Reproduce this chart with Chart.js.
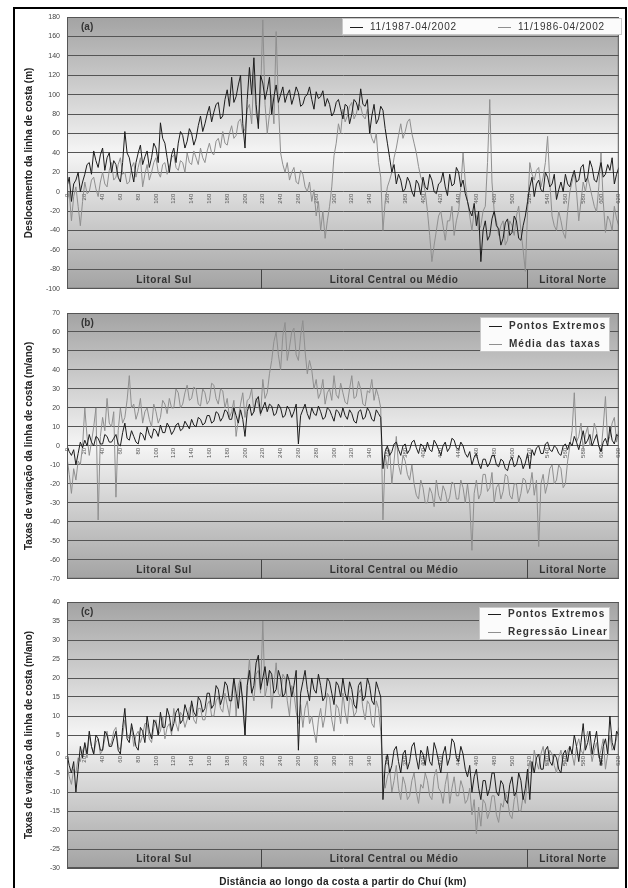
<!DOCTYPE html>
<html><head><meta charset="utf-8">
<script src="https://cdn.jsdelivr.net/npm/chart.js@4.4.0/dist/chart.umd.min.js"></script>
<style>
html,body{margin:0;padding:0;background:#fff;width:628px;height:888px;overflow:hidden;}
#frame{position:absolute;left:13px;top:7px;width:614px;height:900px;border:2px solid #000;box-sizing:border-box;}
canvas{position:absolute;left:0;}
</style></head>
<body>
<div id="frame"></div>
<canvas id="ca" width="628" height="300" style="top:0px"></canvas>
<canvas id="cb" width="628" height="290" style="top:300px"></canvas>
<canvas id="cc" width="628" height="298" style="top:590px"></canvas>
<script>
// ---------------- DATA ----------------
const distanceKm = [
0,2.5,5,7.5,10,12.5,15,17.5,20,22.5,25,27.5,30,32.5,35,37.5,40,42.5,45,47.5,
50,52.5,55,57.5,60,62.5,65,67.5,70,72.5,75,77.5,80,82.5,85,87.5,90,92.5,95,97.5,
100,102.5,105,107.5,110,112.5,115,117.5,120,122.5,125,127.5,130,132.5,135,137.5,140,142.5,145,147.5,
150,152.5,155,157.5,160,162.5,165,167.5,170,172.5,175,177.5,180,182.5,185,187.5,190,192.5,195,197.5,
200,202.5,205,207.5,210,212.5,215,217.5,220,222.5,225,227.5,230,232.5,235,237.5,240,242.5,245,247.5,
250,252.5,255,257.5,260,262.5,265,267.5,270,272.5,275,277.5,280,282.5,285,287.5,290,292.5,295,297.5,
300,302.5,305,307.5,310,312.5,315,317.5,320,322.5,325,327.5,330,332.5,335,337.5,340,342.5,345,347.5,
350,352.5,355,357.5,360,362.5,365,367.5,370,372.5,375,377.5,380,382.5,385,387.5,390,392.5,395,397.5,
400,402.5,405,407.5,410,412.5,415,417.5,420,422.5,425,427.5,430,432.5,435,437.5,440,442.5,445,447.5,
450,452.5,455,457.5,460,462.5,465,467.5,470,472.5,475,477.5,480,482.5,485,487.5,490,492.5,495,497.5,
500,502.5,505,507.5,510,512.5,515,517.5,520,522.5,525,527.5,530,532.5,535,537.5,540,542.5,545,547.5,
550,552.5,555,557.5,560,562.5,565,567.5,570,572.5,575,577.5,580,582.5,585,587.5,590,592.5,595,597.5,
600,602.5,605,607.5,610,612.5,615,617.5,620];

// (a) shoreline displacement (m)
const disp1987 = [
5,15,-10,8,12,20,0,10,18,28,
30,18,42,32,25,38,45,22,35,40,
20,32,28,15,10,30,62,40,35,22,
10,30,40,48,28,36,42,25,35,50,
45,30,71,55,50,35,20,38,45,30,
50,62,58,45,52,65,60,48,55,68,
78,62,70,80,88,72,82,90,92,75,
78,95,105,88,118,92,98,110,120,70,
45,95,128,100,138,90,65,120,112,95,
105,118,80,98,110,92,100,108,92,100,
105,90,98,108,102,88,90,98,100,108,
95,85,103,96,98,104,88,96,90,78,
82,92,95,85,75,90,88,70,80,95,
92,84,106,90,88,95,60,78,90,70,
75,88,84,65,50,35,20,28,8,18,
12,0,3,15,10,0,-5,12,8,-3,
15,5,2,18,12,0,-2,8,10,20,
5,-4,18,6,8,25,20,5,12,-2,
-10,-20,-25,-12,-35,-20,-72,-40,-30,-50,
-45,-28,-20,-35,-38,-55,-48,-32,-28,-45,
-42,-25,-30,-48,-50,-35,-25,-10,5,15,
-5,8,12,2,0,20,15,5,8,18,
-8,2,10,0,18,8,5,15,22,10,
12,25,28,10,15,32,25,12,10,20,
30,15,18,28,22,35,8,18,25];
const disp1986 = [
-10,0,-30,-5,5,-15,-35,-10,10,-2,
0,12,15,3,-5,10,20,8,5,22,
30,12,15,28,35,18,20,8,10,25,
30,15,25,35,5,18,28,12,20,30,
35,20,15,28,30,18,25,35,38,25,
22,32,30,20,40,30,28,42,35,28,
45,35,30,42,50,40,38,52,55,45,
62,50,48,60,68,55,58,72,75,60,
65,85,90,70,120,80,70,100,177,90,
60,80,100,70,165,90,40,28,20,30,
12,20,25,10,8,22,18,5,0,10,
-10,2,-25,-10,-40,-20,-48,-30,-15,5,
37,50,70,60,85,72,78,88,92,75,
80,90,88,78,75,85,65,55,50,60,
30,15,-40,-10,5,12,20,35,45,58,
70,55,62,72,75,60,50,40,26,15,
10,0,-20,-45,-72,-55,-40,-25,-20,-35,
-50,-30,-30,-15,-45,-30,-20,5,40,10,
-10,-25,-40,-20,-25,-40,-35,-20,-15,30,
95,10,-20,-30,-45,-35,-30,-55,-50,-30,
-35,-45,-25,-15,-40,-60,-82,-20,30,18,
12,22,25,5,15,30,57,10,-25,-35,
-40,-20,-30,-42,-48,-20,0,10,20,0,
-30,-10,10,0,15,5,-5,-15,-21,5,
40,-10,-42,-25,-30,-40,-15,-28,-35];

// (b), (c) shoreline change rates (m/ano)
const rateEndPoints = [
0,-3,-5,-2,-10,-4,2,-1,3,0,
6,2,0,5,4,1,1,6,5,2,
2,4,6,1,0,7,12,4,3,8,
5,2,1,7,6,3,10,6,4,9,
8,5,11,7,7,12,10,6,8,11,
12,8,9,13,11,9,14,11,10,15,
14,11,12,16,16,12,13,18,17,13,
15,19,18,14,14,20,16,12,19,14,
5,18,22,16,18,24,26,17,20,23,
18,22,21,16,17,22,20,15,16,21,
19,15,18,22,1,16,19,22,17,14,
20,17,16,21,18,14,15,20,19,16,
13,19,18,15,20,16,14,19,17,13,
12,18,19,14,15,20,18,14,13,19,
17,15,-12,-3,0,-5,-3,1,2,-2,
-5,0,1,-4,-2,2,3,-1,-4,1,
0,-3,2,-2,-3,3,1,-2,-5,0,
2,-3,-1,4,3,-1,-2,2,0,-4,
-6,-3,-10,-6,-4,-9,-12,-7,-7,-11,
-9,-5,-5,-10,-11,-7,-8,-12,-13,-8,
-6,-11,-10,-5,-7,-12,-9,-4,-12,-2,
-5,-1,0,-4,-4,1,2,-2,-3,0,
-1,-4,-5,0,1,-2,2,0,5,2,
-2,3,8,1,3,6,0,3,6,0,
-3,2,4,0,10,3,1,6,5];
const rateMean = [
-6,-15,-25,-12,-18,-8,-10,0,20,5,
-5,2,10,20,-39,5,15,8,25,12,
10,18,-27,8,20,12,15,24,37,20,
22,14,18,25,12,18,20,14,10,22,
18,12,15,24,22,17,25,20,20,30,
28,20,22,28,32,24,25,31,30,22,
21,30,28,22,24,33,32,25,22,30,
29,20,25,15,18,24,5,14,22,28,
15,24,25,30,18,25,22,16,35,25,
28,38,45,55,60,48,40,58,65,45,
52,60,62,48,45,58,66,50,38,45,
40,30,35,25,28,35,22,28,30,24,
37,27,25,33,28,23,22,30,37,25,
26,34,30,22,21,29,28,35,24,30,
26,20,-39,-5,-12,-2,-20,-8,5,-10,
-15,-5,-8,-15,-18,-10,-20,-26,-28,-18,
-22,-30,-30,-22,-25,-32,-18,-26,-29,-21,
-24,-30,-27,-19,-20,-28,-28,-18,-22,-30,
-20,-30,-55,-25,-18,-28,-25,-15,-15,-24,
-22,-14,-30,-22,-20,-28,-24,-15,-16,-26,
-28,-20,-20,-30,-25,-17,-18,-25,-22,-14,
-26,-18,-53,-20,-15,-25,-20,-12,-10,-20,
-18,-10,-12,-22,-20,-8,0,8,28,2,
5,12,-2,6,10,0,3,12,8,0,
-3,10,26,2,5,12,15,2,8];
const rateRegression = [
-3,-6,-8,-4,-5,-1,-2,1,2,-1,
5,2,0,3,4,0,1,4,6,2,
3,6,7,2,1,5,9,5,4,7,
2,5,6,3,5,8,8,4,3,7,
9,5,6,10,4,7,8,5,12,8,
6,11,10,7,9,12,13,9,8,12,
12,9,9,13,14,10,10,14,15,12,
11,16,13,10,16,20,10,18,20,12,
5,18,25,17,14,21,22,16,35,15,
18,22,12,18,24,16,15,21,20,14,
10,18,16,11,8,13,7,12,14,8,
10,6,3,9,12,7,10,16,15,9,
6,13,12,8,16,11,8,15,14,10,
11,16,17,12,9,14,13,8,7,14,
12,6,-5,-9,-6,-4,-10,-7,-3,-9,
-12,-6,-8,-12,-11,-7,-5,-10,-13,-8,
-9,-5,-7,-11,-12,-6,-4,-9,-10,-13,
-8,-5,-13,-9,-6,-11,-11,-7,-9,-13,
-12,-9,-16,-12,-21,-14,-19,-12,-13,-17,
-15,-11,-11,-16,-18,-13,-14,-10,-12,-16,
-17,-12,-10,-15,-15,-11,-13,-6,-2,-5,
1,-2,-4,0,2,-2,-3,1,0,-3,
-5,-1,1,-3,-2,1,2,0,-3,2,
4,1,0,3,6,2,-2,1,3,-1,
1,4,-4,0,5,1,2,4,7];

// tick labels
const yTicksA = [180,160,140,120,100,80,60,40,20,0,-20,-40,-60,-80,-100];
const yTicksB = [70,60,50,40,30,20,10,0,-10,-20,-30,-40,-50,-60,-70];
const yTicksC = [40,35,30,25,20,15,10,5,0,-5,-10,-15,-20,-25,-30];
const xTickStepKm = 20;

// coastal sectors
const regionNames = ['Litoral Sul','Litoral Central ou Médio','Litoral Norte'];
const regionLimitsKm = [0,218,517,620];

// ---------------- DRAWING ----------------
const FONT = '"Liberation Sans", Arial, sans-serif';
const DARK = '#1c1c1c', GREY = '#8f8f8f';

function spacedText(ctx, txt, x, y, spacing){
  if ('letterSpacing' in ctx) { ctx.letterSpacing = spacing + 'px'; ctx.fillText(txt, x, y); ctx.letterSpacing = '0px'; }
  else ctx.fillText(txt, x, y);
}

const panelPlugin = {
  id: 'panel',
  beforeDraw(chart){
    const {ctx, chartArea:a} = chart;
    const g = ctx.createLinearGradient(0, a.top, 0, a.bottom);
    g.addColorStop(0, '#a3a3a3');
    g.addColorStop(0.5, '#f5f5f5');
    g.addColorStop(1, '#a3a3a3');
    ctx.save(); ctx.fillStyle = g; ctx.fillRect(a.left, a.top, a.width, a.height); ctx.restore();
  },
  afterDraw(chart, args, o){
    const {ctx, chartArea:a, scales:{x, y}} = chart;
    const step = o.step;
    ctx.save();
    ctx.strokeStyle = '#555'; ctx.lineWidth = 1;
    ctx.strokeRect(a.left + .5, a.top + .5, a.width - 1, a.height - 1);
    // sector band
    const yTop = y.getPixelForValue(y.min + step), yBot = y.getPixelForValue(y.min);
    const yMid = (yTop + yBot) / 2;
    ctx.strokeStyle = '#444';
    regionLimitsKm.slice(1, -1).forEach(k => {
      const px = Math.round(x.getPixelForValue(k)) + .5;
      ctx.beginPath(); ctx.moveTo(px, yTop); ctx.lineTo(px, yBot); ctx.stroke();
    });
    ctx.fillStyle = '#333'; ctx.font = 'bold 10px ' + FONT;
    ctx.textAlign = 'center'; ctx.textBaseline = 'middle';
    regionNames.forEach((n, i) => {
      const cx = x.getPixelForValue((regionLimitsKm[i] + regionLimitsKm[i+1]) / 2);
      spacedText(ctx, n, cx, yMid + 1, 0.6);
    });
    // panel letter
    ctx.textAlign = 'left';
    ctx.fillText(o.letter, a.left + 14, y.getPixelForValue(y.max - step / 2) + 1);
    // legend
    const L = o.legend;
    ctx.fillStyle = '#fbfbfb'; ctx.fillRect(L.x, L.y, L.w, L.h);
    ctx.strokeStyle = '#c8c8c8'; ctx.strokeRect(L.x + .5, L.y + .5, L.w - 1, L.h - 1);
    chart.data.datasets.forEach((ds, i) => {
      const ix = L.x + L.dx + (L.row ? i * L.gap : 0);
      const iy = L.y + L.dy + (L.row ? 0 : i * L.gap);
      ctx.strokeStyle = ds.borderColor; ctx.lineWidth = 1;
      ctx.beginPath(); ctx.moveTo(ix, Math.round(iy) + .5); ctx.lineTo(ix + 13, Math.round(iy) + .5); ctx.stroke();
      ctx.fillStyle = '#333'; ctx.font = (L.bold ? 'bold ' : '') + '10px ' + FONT;
      ctx.textAlign = 'left'; ctx.textBaseline = 'middle';
      spacedText(ctx, ds.label, ix + 20, iy + 0.5, L.spacing);
    });
    if (o.xTitle) {
      ctx.fillStyle = '#222'; ctx.font = 'bold 10px ' + FONT; ctx.textAlign = 'center';
      spacedText(ctx, o.xTitle, (a.left + a.right) / 2, a.bottom + 14, 0.3);
    }
    ctx.restore();
  }
};

function makeChart(id, ticks, series, yTitle, padding, panelOpts){
  const step = ticks[0] - ticks[1];
  new Chart(document.getElementById(id), {
    type: 'line',
    data: {
      datasets: series.map(s => ({
        label: s.label,
        data: distanceKm.map((d, i) => ({x: d, y: s.values[i]})),
        borderColor: s.color, borderWidth: 1, pointRadius: 0, tension: 0, fill: false
      }))
    },
    options: {
      responsive: false, animation: false, devicePixelRatio: 1,
      layout: {padding: padding},
      plugins: {legend: {display: false}, tooltip: {enabled: false},
        panel: Object.assign({step: step}, panelOpts)},
      scales: {
        x: {
          type: 'linear', min: distanceKm[0], max: distanceKm[distanceKm.length - 1],
          position: {y: 0},
          grid: {display: false, drawTicks: false}, border: {display: false},
          ticks: {stepSize: xTickStepKm, autoSkip: false, minRotation: 90, maxRotation: 90,
            font: {size: 6, family: FONT}, color: '#555', padding: 2}
        },
        y: {
          min: ticks[ticks.length - 1], max: ticks[0],
          afterFit: s => { s.width = 47; },
          grid: {color: '#555', lineWidth: 1, drawTicks: false},
          border: {display: true, color: '#555'},
          ticks: {stepSize: step, font: {size: 7, family: FONT}, color: '#444', padding: 7},
          title: {display: true, text: yTitle, color: '#222',
            font: {size: 10, weight: 'bold', family: FONT}, padding: {top: 3, bottom: 2}}
        }
      }
    },
    plugins: [panelPlugin]
  });
}

makeChart('ca', yTicksA, [
  {label: '11/1987-04/2002', values: disp1987, color: DARK},
  {label: '11/1986-04/2002', values: disp1986, color: GREY}
], 'Deslocamento da linha de costa (m)', {left: 20, right: 6, top: 17, bottom: 10},
  {letter: '(a)', legend: {x: 342, y: 18, w: 280, h: 17, row: true, dx: 8, dy: 8.5, gap: 148, bold: false, spacing: 0.8}});

makeChart('cb', yTicksB, [
  {label: 'Pontos Extremos', values: rateEndPoints, color: DARK},
  {label: 'Média das taxas', values: rateMean, color: GREY}
], 'Taxas de variação da linha de costa (m/ano)', {left: 20, right: 6, top: 13, bottom: 10},
  {letter: '(b)', legend: {x: 480, y: 17, w: 130, h: 35, row: false, dx: 9, dy: 9, gap: 18, bold: true, spacing: 1}});

makeChart('cc', yTicksC, [
  {label: 'Pontos Extremos', values: rateEndPoints, color: DARK},
  {label: 'Regressão Linear', values: rateRegression, color: GREY}
], 'Taxas de variação da linha de costa (m/ano)', {left: 20, right: 6, top: 12, bottom: 20},
  {letter: '(c)', xTitle: 'Distância ao longo da costa a partir do Chuí (km)',
   legend: {x: 479, y: 17, w: 131, h: 33, row: false, dx: 9, dy: 7, gap: 18, bold: true, spacing: 1}});
</script>
</body></html>
